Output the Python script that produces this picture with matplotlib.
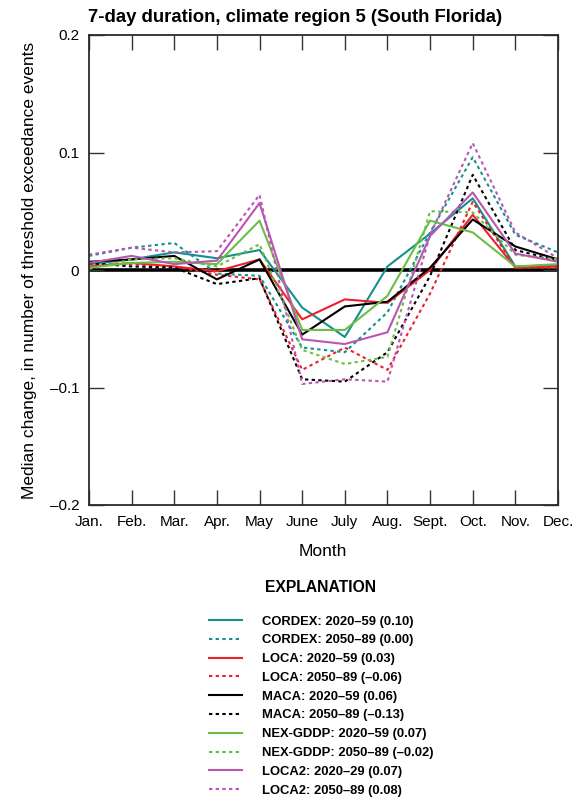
import matplotlib
matplotlib.use("Agg")
import matplotlib.pyplot as plt

plt.rcParams['font.family'] = ['Liberation Sans', 'DejaVu Sans']

months = ["Jan.", "Feb.", "Mar.", "Apr.", "May", "June", "July",
          "Aug.", "Sept.", "Oct.", "Nov.", "Dec."]

# median change per month
cordex_2020 = [0.005, 0.009, 0.015, 0.010, 0.017, -0.032, -0.057, 0.003, 0.031, 0.061, 0.003, 0.004]
cordex_2050 = [0.012, 0.019, 0.023, -0.003, -0.005, -0.066, -0.070, -0.036, 0.032, 0.096, 0.030, 0.015]
loca_2020 = [0.003, 0.006, 0.003, -0.001, 0.009, -0.042, -0.025, -0.028, 0.000, 0.047, 0.002, 0.003]
loca_2050 = [0.005, 0.005, 0.003, -0.004, -0.008, -0.085, -0.066, -0.085, -0.020, 0.058, 0.002, 0.002]
maca_2020 = [0.007, 0.009, 0.012, -0.008, 0.009, -0.055, -0.031, -0.027, 0.002, 0.043, 0.020, 0.009]
maca_2050 = [0.006, 0.003, 0.002, -0.012, -0.007, -0.093, -0.095, -0.070, -0.005, 0.081, 0.017, 0.008]
nex_2020 = [0.002, 0.006, 0.007, 0.005, 0.042, -0.051, -0.051, -0.022, 0.042, 0.032, 0.003, 0.005]
nex_2050 = [0.001, 0.009, 0.010, 0.003, 0.022, -0.068, -0.080, -0.074, 0.050, 0.049, 0.013, 0.009]
loca2_2020 = [0.006, 0.012, 0.005, 0.008, 0.057, -0.059, -0.063, -0.053, 0.029, 0.066, 0.014, 0.007]
loca2_2050 = [0.013, 0.019, 0.015, 0.016, 0.064, -0.097, -0.093, -0.095, 0.030, 0.108, 0.032, 0.010]

series = [
    ("CORDEX: 2020\u201359 (0.10)", cordex_2020, "#13918f", "-"),
    ("CORDEX: 2050\u201389 (0.00)", cordex_2050, "#13918f", ":"),
    ("LOCA: 2020\u201359 (0.03)", loca_2020, "#ee2028", "-"),
    ("LOCA: 2050\u201389 (\u20130.06)", loca_2050, "#ee2028", ":"),
    ("MACA: 2020\u201359 (0.06)", maca_2020, "#000000", "-"),
    ("MACA: 2050\u201389 (\u20130.13)", maca_2050, "#000000", ":"),
    ("NEX-GDDP: 2020\u201359 (0.07)", nex_2020, "#6cbd45", "-"),
    ("NEX-GDDP: 2050\u201389 (\u20130.02)", nex_2050, "#6cbd45", ":"),
    ("LOCA2: 2020\u201329 (0.07)", loca2_2020, "#b955b2", "-"),
    ("LOCA2: 2050\u201389 (0.08)", loca2_2050, "#b955b2", ":"),
]

W, H = 577, 801
fig = plt.figure(figsize=(W / 100, H / 100), dpi=100)
ax = fig.add_axes([89 / W, 1 - 505 / H, 469 / W, 470 / H])

x = list(range(len(months)))
ax.axhline(0, color="black", lw=2.6, zorder=1)
handles = []
for label, vals, color, style in series:
    if style == "-":
        line, = ax.plot(x, vals, color=color, lw=1.5, label=label, zorder=2)
    else:
        line, = ax.plot(x, vals, color=color, lw=1.5, dashes=(1.6, 1.6), label=label, zorder=2)
    handles.append(line)

ax.set_xlim(0, 11)
ax.set_ylim(-0.2, 0.2)
ax.set_xticks(x)
ax.set_xticklabels(months)
ax.set_yticks([-0.2, -0.1, 0, 0.1, 0.2])
ax.set_yticklabels(["\u20130.2", "\u20130.1", "0", "0.1", "0.2"])
ax.tick_params(direction="in", length=11, width=1, color="#333333",
               top=True, right=True, labelsize=11)
ax.tick_params(axis="x", pad=7)
ax.tick_params(axis="y", pad=7)
for s in ax.spines.values():
    s.set_color("#2b2b2b")
    s.set_linewidth(1.3)

fig.text(323 / W, 1 - 552 / H, "Month", fontsize=12.5, ha="center", va="center")
fig.text(30 / W, 1 - 270 / H, "Median change, in number of threshold exceedance events",
         fontsize=12.5, rotation=90, ha="center", va="center")
fig.text(88 / W, 1 - 18 / H, "7-day duration, climate region 5 (South Florida)",
         fontsize=13.3, fontweight="bold", va="center", ha="left")

leg = fig.legend(handles=handles, loc="upper left", bbox_to_anchor=(202 / W, 1 - 573 / H),
                 frameon=False, fontsize=9.4, handlelength=2.6, handletextpad=1.5,
                 labelspacing=0.51, borderpad=0, title="EXPLANATION",
                 title_fontproperties={"weight": "bold", "size": 11.3})
for t in leg.get_texts():
    t.set_fontweight("bold")
leg._legend_box.sep = 15

fig.savefig("out.png", dpi=100)
